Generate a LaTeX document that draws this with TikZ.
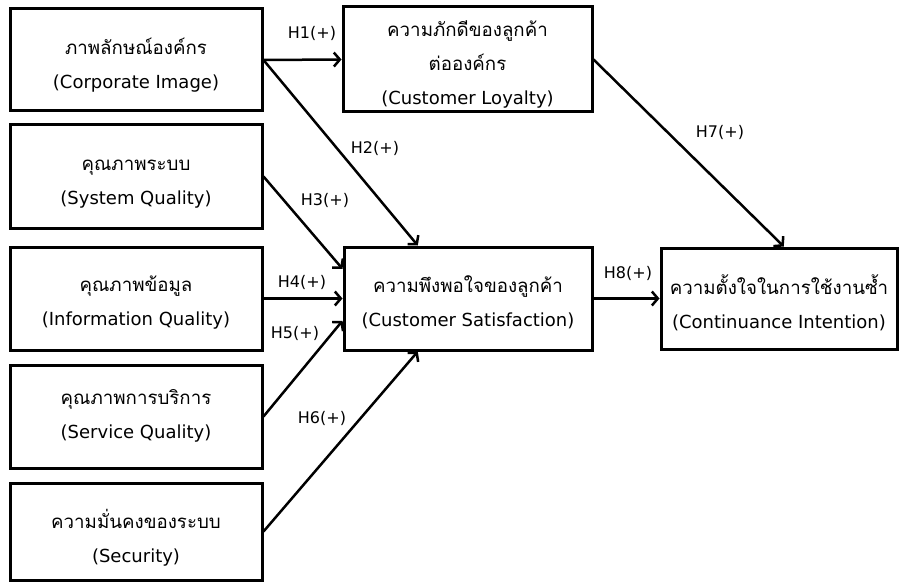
\documentclass[tikz,border=0pt]{standalone}
\usepackage{fontspec}
\setmainfont{DejaVu Sans}
\newfontfamily\thaifont[Script=Thai]{Loma}
\usetikzlibrary{arrows.meta,calc,shadows}
\tikzset{
  box/.style={draw=black, line width=3pt, fill=white, inner sep=0pt,
    drop shadow={shadow xshift=1.5pt, shadow yshift=-1.5pt, opacity=0.25, fill=black}},
  boxtext/.style={align=center, inner sep=0pt, font=\fontsize{18}{34}\selectfont},
  link/.style={line width=2.5pt, -{Straight Barb[length=6pt,width=14pt,line width=2.5pt]}},
  hlabel/.style={font=\fontsize{16}{18}\selectfont, inner sep=0pt}
}
\newcommand{\thtxt}[1]{{\thaifont\fontsize{18.7}{34}\selectfont #1}}
\begin{document}
\begin{tikzpicture}[x=1pt,y=-1pt]
\fill[white] (0,0) rectangle (899,588);
\useasboundingbox (0,0) rectangle (899,588);
% left column
\node[box, minimum width=252pt, minimum height=102pt,
  label={[boxtext, name=t1, yshift=-5pt]center:{\thtxt{ภาพลักษณ์องค์กร}\\(Corporate Image)}}]
  (b1) at (136,60) {};
\node[box, minimum width=252pt, minimum height=103pt,
  label={[boxtext, name=t2, yshift=-8pt]center:{\thtxt{คุณภาพระบบ}\\(System Quality)}}]
  (b2) at (136,176.5) {};
\node[box, minimum width=252pt, minimum height=103pt,
  label={[boxtext, name=t3, yshift=-4pt]center:{\thtxt{คุณภาพข้อมูล}\\(Information Quality)}}]
  (b3) at (136,298.5) {};
\node[box, minimum width=252pt, minimum height=103pt,
  label={[boxtext, name=t4, yshift=1pt]center:{\thtxt{คุณภาพการบริการ}\\(Service Quality)}}]
  (b4) at (136,416.5) {};
\node[box, minimum width=252pt, minimum height=97pt,
  label={[boxtext, name=t5, yshift=-6pt]center:{\thtxt{ความมั่นคงของระบบ}\\(Security)}}]
  (b5) at (136,531.5) {};
% middle and right
\node[box, minimum width=249pt, minimum height=105pt,
  label={[boxtext, name=t6, yshift=-5pt]center:{\thtxt{ความภักดีของลูกค้า}\\\thtxt{ต่อองค์กร}\\(Customer Loyalty)}}]
  (loy) at (467.5,59.5) {};
\node[box, minimum width=248pt, minimum height=103pt,
  label={[boxtext, name=t7, yshift=-4pt]center:{\thtxt{ความพึงพอใจของลูกค้า}\\(Customer Satisfaction)}}]
  (sat) at (468,298.5) {};
\node[box, minimum width=236pt, minimum height=101pt,
  label={[boxtext, name=t8, yshift=-4pt]center:{\thtxt{ความตั้งใจในการใช้งานซ้ำ}\\(Continuance Intention)}}]
  (cont) at (779,298.5) {};
% connectors
\draw[link] (b1.east) -- (loy.west);
\draw[link] (b1.east) -- ($(sat.north west)!0.30!(sat.north east)$);
\draw[link] (b2.east) -- ($(sat.north west)!0.22!(sat.south west)$);
\draw[link] (b3.east) -- (sat.west);
\draw[link] (b4.east) -- ($(sat.north west)!0.71!(sat.south west)$);
\draw[link] (b5.east) -- ($(sat.south west)!0.30!(sat.south east)$);
\draw[link] (loy.east) -- ($(cont.north west)!0.52!(cont.north east)$);
\draw[link] (sat.east) -- (cont.west);
% labels
\node[hlabel] (h1) at (312,33) {H1(+)};
\node[hlabel] (h2) at (375,148) {H2(+)};
\node[hlabel] (h3) at (325,200) {H3(+)};
\node[hlabel] (h4) at (302,282) {H4(+)};
\node[hlabel] (h5) at (295,333) {H5(+)};
\node[hlabel] (h6) at (322,418) {H6(+)};
\node[hlabel] (h7) at (720,132) {H7(+)};
\node[hlabel] (h8) at (628,273) {H8(+)};
\end{tikzpicture}
\end{document}
